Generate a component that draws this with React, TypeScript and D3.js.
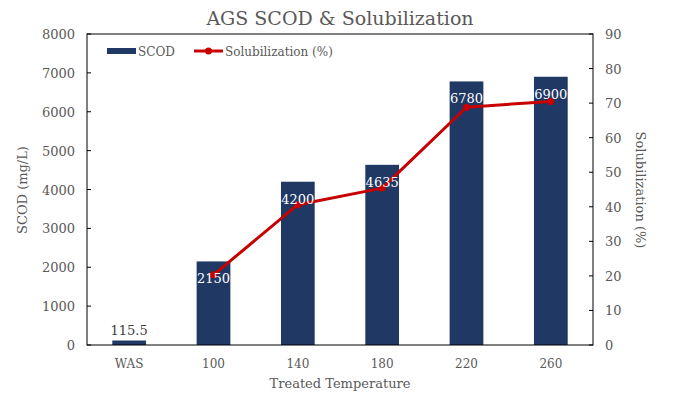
import React from "react";
import * as d3 from "d3";

const categories = ["WAS", "100", "140", "180", "220", "260"];
const scod = [115.5, 2150, 4200, 4635, 6780, 6900];
const solubilization: (number | null)[] = [null, 20.3, 40.6, 45.4, 68.8, 70.5];
const leftTicks = [0, 1000, 2000, 3000, 4000, 5000, 6000, 7000, 8000];
const rightTicks = [0, 10, 20, 30, 40, 50, 60, 70, 80, 90];

const W = 679, H = 404;
const M = { left: 87, right: 593, top: 34, bottom: 345 };
const FONT = "'DejaVu Serif', serif";
const GRAY = "#595959";
const BAR = "#203864";
const RED = "#c80000";

export default function App() {
  const x = d3.scaleBand<string>().domain(categories).range([M.left, M.right]).paddingInner(0.6).paddingOuter(0.3);
  const yL = d3.scaleLinear().domain([0, 8000]).range([M.bottom, M.top]);
  const yR = d3.scaleLinear().domain([0, 90]).range([M.bottom, M.top]);
  const pts = categories
    .map((c, i) => ({ c, v: solubilization[i] }))
    .filter((d) => d.v !== null) as { c: string; v: number }[];
  const line = d3
    .line<{ c: string; v: number }>()
    .x((d) => (x(d.c) as number) + x.bandwidth() / 2)
    .y((d) => yR(d.v));
  return (
    <svg width={W} height={H} style={{ position: "absolute", left: 0, top: 0, background: "#fff" }} fontFamily={FONT}>
      <rect width={W} height={H} fill="#fff" />
      <text x={340} y={25} textAnchor="middle" fontSize={19} fill={GRAY}>AGS SCOD &amp; Solubilization</text>
      {categories.map((c, i) => (
        <rect key={c} x={x(c)} y={yL(scod[i])} width={x.bandwidth()} height={M.bottom - yL(scod[i])} fill={BAR} />
      ))}
      <path d={line(pts) || ""} fill="none" stroke={RED} strokeWidth={3} strokeLinejoin="round" />
      {pts.map((d) => (
        <circle key={d.c} cx={(x(d.c) as number) + x.bandwidth() / 2} cy={yR(d.v)} r={3.5} fill={RED} />
      ))}
      {categories.map((c, i) => {
        const cx = (x(c) as number) + x.bandwidth() / 2;
        const inside = scod[i] > 1000;
        return (
          <text key={"l" + c} x={cx} y={inside ? yL(scod[i]) + 22 : yL(scod[i]) - 6} textAnchor="middle" fontSize={13} fill={inside ? "#fff" : "#404040"}>
            {scod[i]}
          </text>
        );
      })}
      <rect x={M.left} y={M.top} width={M.right - M.left} height={M.bottom - M.top} fill="none" stroke="#000" strokeWidth={1} />
      {leftTicks.map((t) => (
        <g key={"lt" + t}>
          <line x1={M.left} x2={M.left + 4} y1={yL(t)} y2={yL(t)} stroke="#000" />
          <text x={75} y={yL(t) + 5} textAnchor="end" fontSize={13} fill={GRAY}>{t}</text>
        </g>
      ))}
      {rightTicks.map((t) => (
        <g key={"rt" + t}>
          <line x1={M.right - 4} x2={M.right} y1={yR(t)} y2={yR(t)} stroke="#000" />
          <text x={605} y={yR(t) + 5} textAnchor="start" fontSize={13} fill={GRAY}>{t}</text>
        </g>
      ))}
      {categories.map((c) => (
        <text key={"x" + c} x={(x(c) as number) + x.bandwidth() / 2} y={368} textAnchor="middle" fontSize={12} fill={GRAY}>{c}</text>
      ))}
      <text x={340} y={388} textAnchor="middle" fontSize={13} fill={GRAY}>Treated Temperature</text>
      <text transform="translate(27,190) rotate(-90)" textAnchor="middle" fontSize={13} fill={GRAY}>SCOD (mg/L)</text>
      <text transform="translate(636,190) rotate(90)" textAnchor="middle" fontSize={13} fill={GRAY}>Solubilization (%)</text>
      <rect x={107} y={48} width={29} height={6} fill={BAR} />
      <text x={138} y={56} fontSize={12} fill={GRAY}>SCOD</text>
      <line x1={194} x2={223} y1={51} y2={51} stroke={RED} strokeWidth={3} />
      <circle cx={208.5} cy={51} r={3.5} fill={RED} />
      <text x={225} y={56} fontSize={12} fill={GRAY}>Solubilization (%)</text>
    </svg>
  );
}
